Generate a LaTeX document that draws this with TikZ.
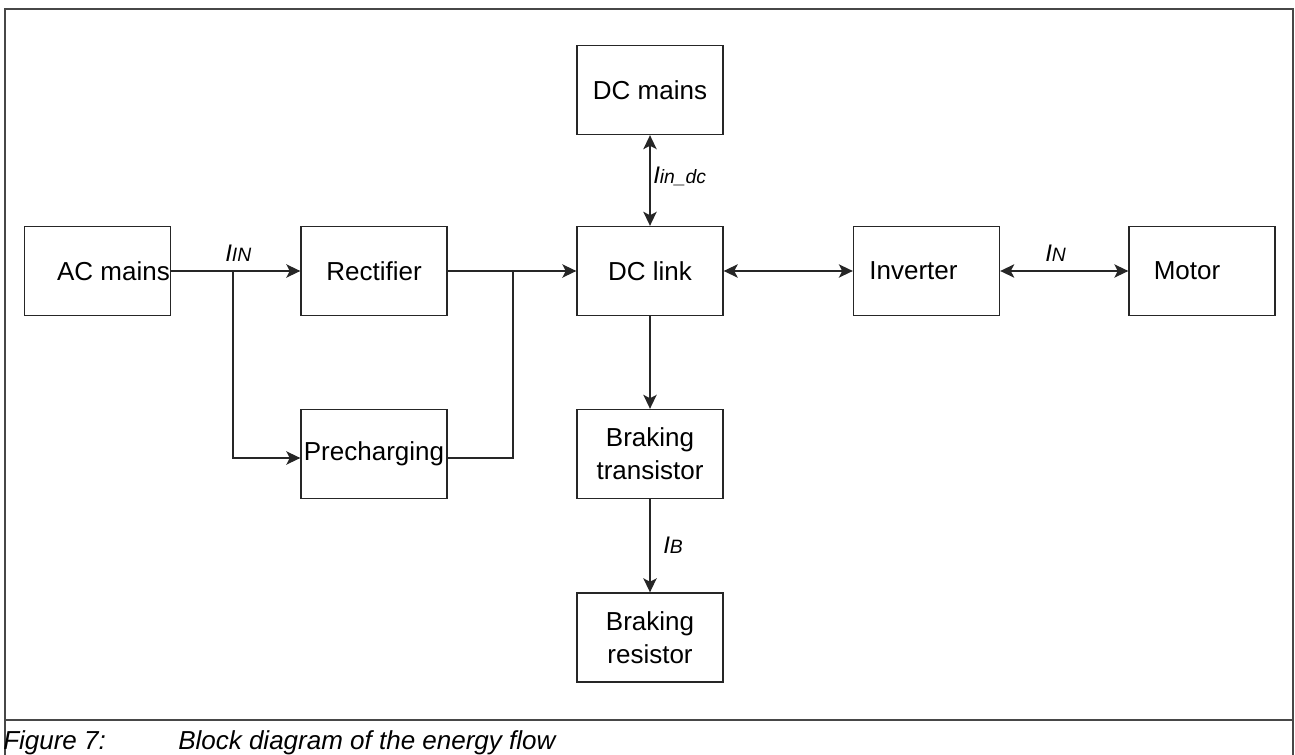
\documentclass[tikz,border=0pt]{standalone}
\usepackage{fontspec}
\setmainfont{Liberation Sans}
\usetikzlibrary{arrows.meta}

\tikzset{
  blk/.style={draw=black!85, line width=1pt, minimum width=109.5pt, minimum height=66.75pt, inner sep=0pt, align=center},
  flow/.style={draw=black!85, line width=1pt, -{Stealth[length=10.5pt,width=10pt,inset=2.5pt]}},
  both/.style={draw=black!85, line width=1pt, {Stealth[length=10.5pt,width=10pt,inset=2.5pt]}-{Stealth[length=10.5pt,width=10pt,inset=2.5pt]}},
  wire/.style={draw=black!85, line width=1pt},
  cur/.style={font=\fontsize{18}{20}\selectfont\itshape, inner sep=0pt, anchor=base west},
  frame/.style={draw=black!72, line width=1.5pt},
}
\newcommand{\subi}[1]{{\fontsize{14.5}{16}\selectfont #1}}

\begin{document}
\begin{tikzpicture}[x=0.75pt, y=-0.75pt, font=\fontsize{19.5}{24.75}\selectfont]
  \useasboundingbox (0,0) rectangle (1295,755);
  % frame and caption
  \draw[frame] (5,755) -- (5,9) -- (1293,9) -- (1293,755);
  \draw[frame] (5,720) -- (1293,720);
  \node[inner sep=0pt, anchor=base west, font=\fontsize{19.5}{24.75}\selectfont\itshape] (fig) at (3,749) {Figure 7:};
  \node[inner sep=0pt, anchor=base west, font=\fontsize{19.5}{24.75}\selectfont\itshape] (cap) at (178,749) {Block diagram of the energy flow};
  % blocks
  \node[blk, label={[xshift=12pt]center:AC mains}] (ac) at (97.5,271) {};
  \node[blk] (rect) at (374,271) {Rectifier};
  \node[blk] (dcl) at (650,271) {DC link};
  \node[blk] (dcm) at (650,90) {DC mains};
  \node[blk, label={[xshift=-9.75pt]center:Inverter}] (inv) at (926.5,271) {};
  \node[blk, label={[xshift=-11.25pt]center:Motor}] (mot) at (1202,271) {};
  \node[blk] (prech) at (374,454) {Precharging};
  \node[blk] (bt) at (650,454) {Braking\\transistor};
  \node[blk] (br) at (650,637.5) {Braking\\resistor};
  % connectors
  \coordinate (split) at (233,271);
  \coordinate (join) at (513,271);
  \draw[flow] (ac) -- (rect);
  \draw[flow] (split) |- ([yshift=-3pt]prech.west);
  \draw[flow] (rect) -- (dcl);
  \draw[wire] ([yshift=-3pt]prech.east) -| (join);
  \draw[both] (dcm) -- (dcl);
  \draw[both] (dcl) -- (inv);
  \draw[both] (inv) -- (mot);
  \draw[flow] (dcl) -- (bt);
  \draw[flow] (bt) -- (br);
  % currents
  \node[cur] (iin) at (225,262) {I\subi{IN}};
  \node[cur] (iindc) at (653,184) {I\subi{in\_dc}};
  \node[cur] (in) at (1045,262) {I\subi{N}};
  \node[cur] (ib) at (663,553) {I\subi{B}};
\end{tikzpicture}
\end{document}
